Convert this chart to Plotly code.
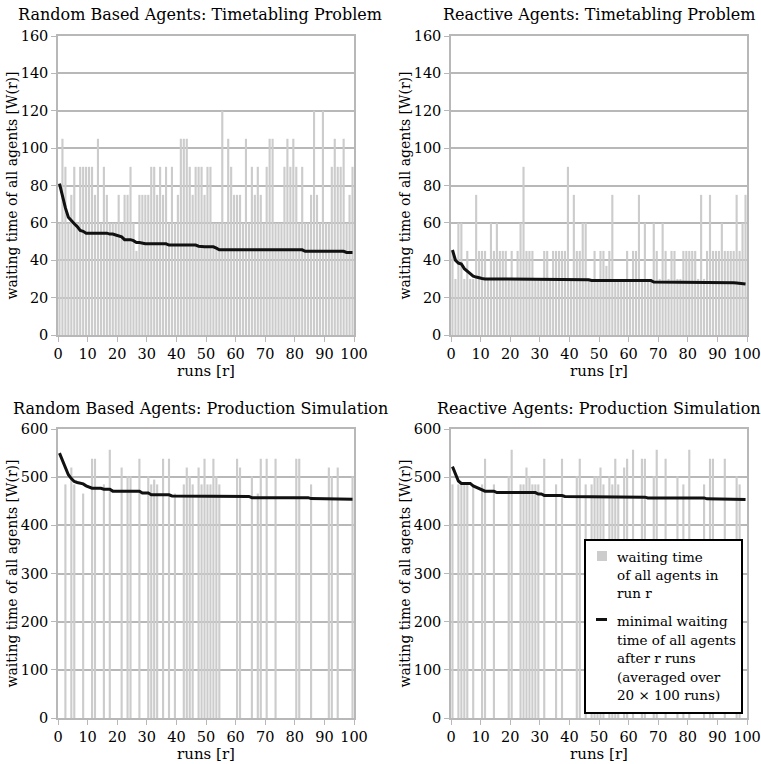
import plotly.graph_objects as go

runs = list(range(1, 101))

# Random Based Agents: Timetabling Problem
tl_bars = [60, 105, 90, 60, 75, 90, 60, 90, 90, 90,
           90, 90, 75, 105, 60, 90, 75, 60, 60, 60,
           75, 60, 75, 75, 90, 60, 45, 75, 75, 75,
           75, 90, 90, 75, 90, 75, 90, 60, 90, 60,
           75, 105, 105, 105, 90, 75, 90, 90, 90, 75,
           90, 90, 60, 60, 60, 120, 60, 105, 90, 75,
           75, 75, 60, 105, 60, 90, 75, 90, 75, 60,
           90, 105, 105, 60, 60, 60, 90, 105, 90, 105,
           90, 60, 90, 60, 60, 75, 120, 75, 60, 120,
           60, 60, 90, 105, 90, 90, 105, 60, 75, 90]
tl_min = [81, 74, 68, 63, 61, 59.5, 58, 56, 55.5, 54.5,
          54.5, 54.5, 54.5, 54.5, 54.5, 54.5, 54.5, 54, 54, 53.5,
          53, 52.5, 51, 51, 51, 50.5, 49.5, 49.5, 49, 48.8,
          48.8, 48.8, 48.8, 48.8, 48.8, 48.8, 48.8, 48.1, 48.1, 48.1,
          48.1, 48.1, 48.1, 48.1, 48.1, 48.1, 48.1, 47.5, 47.2, 47.2,
          47.2, 47.2, 47.2, 46.5, 45.6, 45.6, 45.6, 45.6, 45.6, 45.6,
          45.6, 45.6, 45.6, 45.6, 45.6, 45.6, 45.6, 45.6, 45.6, 45.6,
          45.6, 45.6, 45.6, 45.6, 45.6, 45.6, 45.6, 45.6, 45.6, 45.6,
          45.6, 45.6, 45.6, 44.8, 44.8, 44.8, 44.8, 44.8, 44.8, 44.8,
          44.8, 44.8, 44.8, 44.8, 44.8, 44.8, 44.8, 44.2, 44.2, 44.2]

# Reactive Agents: Timetabling Problem
tr_bars = [45, 30, 60, 60, 30, 45, 30, 30, 75, 45,
           45, 45, 30, 60, 45, 60, 45, 45, 45, 30,
           45, 30, 45, 60, 90, 45, 45, 45, 30, 30,
           30, 45, 45, 30, 45, 45, 45, 45, 45, 90,
           30, 75, 45, 45, 60, 60, 30, 30, 45, 30,
           45, 45, 37, 45, 75, 30, 30, 30, 30, 45,
           30, 45, 45, 75, 30, 60, 30, 30, 60, 45,
           30, 60, 45, 30, 45, 45, 30, 30, 45, 45,
           45, 45, 45, 30, 75, 30, 45, 75, 45, 45,
           45, 60, 45, 45, 45, 45, 75, 45, 60, 75]
tr_min = [45.5, 40, 38.5, 38, 35.5, 34, 32.5, 31.5, 31, 30.5,
          30.2, 30, 30, 30, 30, 30, 30, 30, 30, 30,
          29.6, 29.6, 29.6, 29.6, 29.6, 29.6, 29.6, 29.6, 29.6, 29.6,
          29.6, 29.6, 29.6, 29.6, 29.6, 29.6, 29.6, 29.6, 29.6, 29.6,
          29.6, 29.6, 29.6, 29.6, 29.6, 29.6, 29.6, 29.2, 29.2, 29.2,
          29.2, 29.2, 29.2, 29.2, 29.2, 29.2, 29.2, 29.2, 29.2, 29.2,
          29.2, 29.2, 29.2, 29.2, 29.2, 29.2, 29.2, 29.2, 28.3, 28.3,
          28.3, 28.3, 28.3, 28.3, 28.3, 28.3, 28.3, 28.3, 28.3, 28.3,
          28.3, 28.3, 28.3, 28.3, 28.3, 28.3, 28.3, 28.3, 28.3, 28.3,
          28.3, 28.3, 28.3, 28.3, 28.3, 27.9, 27.8, 27.6, 27.4, 27.3]

# Random Based Agents: Production Simulation
bl_bars = [0, 0, 485, 0, 520, 485, 0, 0, 466, 0,
           0, 538, 538, 0, 0, 485, 0, 557, 0, 0,
           0, 520, 0, 502, 502, 0, 0, 538, 0, 0,
           502, 485, 495, 485, 0, 538, 0, 538, 0, 466,
           0, 0, 485, 520, 502, 485, 0, 520, 485, 538,
           485, 485, 538, 502, 485, 0, 0, 0, 0, 0,
           538, 520, 0, 0, 0, 502, 0, 466, 538, 0,
           538, 0, 0, 538, 0, 0, 0, 0, 0, 0,
           538, 538, 0, 0, 0, 485, 0, 0, 0, 0,
           0, 520, 502, 0, 520, 0, 0, 0, 0, 502]
bl_min = [550, 535, 517, 505, 497, 491, 489, 487, 486, 482,
          480, 477, 477, 477, 477, 475, 475, 475, 471, 471,
          471, 471, 471, 471, 471, 471, 471, 471, 467, 467,
          467, 463.5, 463.5, 463.5, 463.5, 463.5, 463.5, 463.5, 461, 461,
          461, 461, 461, 461, 461, 461, 461, 461, 461, 461,
          461, 461, 461, 461, 461, 461, 461, 461, 460, 460,
          460, 460, 460, 460, 460, 457.5, 457.5, 457.5, 457.5, 457.5,
          457.5, 457.5, 457.5, 457.5, 457.5, 457.5, 457.5, 457.5, 457.5, 457.5,
          457.5, 457.5, 457.5, 457.5, 457.5, 455.5, 455.5, 455.5, 455.5, 455.5,
          455.5, 455.5, 455.5, 455, 455, 455, 454.5, 454.5, 454, 454]

# Reactive Agents: Production Simulation
br_bars = [485, 0, 485, 485, 485, 485, 0, 485, 0, 0,
           485, 538, 0, 0, 485, 0, 0, 0, 0, 502,
           557, 0, 0, 485, 485, 520, 502, 485, 485, 485,
           0, 538, 0, 0, 0, 485, 0, 538, 0, 0,
           0, 0, 502, 538, 0, 485, 0, 485, 502, 502,
           520, 485, 0, 502, 485, 538, 485, 0, 520, 538,
           0, 557, 0, 0, 538, 538, 0, 0, 502, 557,
           0, 0, 538, 0, 0, 0, 502, 0, 485, 0,
           557, 0, 0, 0, 0, 485, 0, 538, 538, 0,
           0, 0, 538, 0, 0, 0, 502, 485, 0, 0]
br_min = [522, 505, 492, 487, 487, 487, 487, 482, 479, 476,
          474, 471, 471, 471, 471, 468, 468, 468, 468, 468,
          468, 468, 468, 468, 468, 468, 468, 468, 468, 465,
          465, 462, 462, 462, 462, 462, 462, 462, 460, 460,
          460, 458.5, 458.5, 458.5, 458.5, 458.5, 458.5, 458.5, 458.5, 458.5,
          458.5, 458.5, 458.5, 458.5, 458.5, 458.5, 458.5, 458.5, 458.5, 458.5,
          458.5, 458.5, 458.5, 458.5, 458.5, 458.5, 457, 457, 457, 457,
          457, 457, 457, 457, 457, 457, 457, 457, 457, 457,
          457, 457, 457, 457, 457, 457, 455, 455, 455, 455,
          455, 455, 455, 455, 455, 455, 455, 454.5, 454, 453.5]

titles = ["Random Based Agents: Timetabling Problem",
          "Reactive Agents: Timetabling Problem",
          "Random Based Agents: Production Simulation",
          "Reactive Agents: Production Simulation"]
x_ticks = list(range(0, 101, 10))
bar_legend_lines = ["waiting time", "of all agents in", "run r"]
line_legend_lines = ["minimal waiting", "time of all agents", "after r runs",
                     "(averaged over", "20 × 100 runs)"]

FONT = "DejaVu Serif"
GRID = "#b8b8b8"
BAR = "#cccccc"

W, H = 761, 764
xdoms = [[58 / W, 354 / W], [451 / W, 747 / W]]
ydoms = [[1 - 335 / H, 1 - 36 / H], [1 - 718 / H, 1 - 429 / H]]


def px(x):
    return x / W


def py(y):
    return 1 - y / H


panels = [
    (tl_bars, tl_min, 0, 0, [0, 160], 20),
    (tr_bars, tr_min, 1, 0, [0, 160], 20),
    (bl_bars, bl_min, 0, 1, [0, 600], 100),
    (br_bars, br_min, 1, 1, [0, 600], 100),
]

xpos = [r - 0.5 for r in runs]

fig = go.Figure()
layout = dict(
    width=W, height=H,
    margin=dict(l=0, r=0, t=0, b=0, autoexpand=False),
    paper_bgcolor="white", plot_bgcolor="white",
    font=dict(family=FONT, size=14, color="black"),
    barmode="overlay",
    showlegend=False,
    annotations=[],
    shapes=[],
)

for i, (bars, mins, col, row, yr, dt) in enumerate(panels):
    n = "" if i == 0 else str(i + 1)
    xa, ya = "x" + n, "y" + n
    fig.add_trace(go.Bar(x=xpos, y=bars, xaxis=xa, yaxis=ya, width=0.72,
                         marker=dict(color=BAR, line=dict(width=0)),
                         name="waiting time of all agents in run r"))
    fig.add_trace(go.Scatter(x=xpos, y=mins, xaxis=xa, yaxis=ya, mode="lines",
                             line=dict(color="#111111", width=3),
                             name="minimal waiting time of all agents after r runs"))
    layout["xaxis" + n] = dict(
        domain=xdoms[col], anchor=ya, range=[0, 100], automargin=False,
        tickvals=x_ticks, ticks="outside", ticklen=5, tickcolor=GRID,
        showgrid=False, showline=True, linecolor=GRID, linewidth=1.5, mirror=True,
        tickfont=dict(size=14.5), zeroline=False,
        title=dict(text="runs [r]", font=dict(size=15), standoff=3),
    )
    layout["yaxis" + n] = dict(
        domain=ydoms[row], anchor=xa, range=yr, dtick=dt, automargin=False,
        ticks="outside", ticklen=5, tickcolor=GRID,
        showgrid=True, gridcolor=GRID, gridwidth=1.5,
        showline=True, linecolor=GRID, linewidth=1.5, mirror=True,
        tickfont=dict(size=14.5), zeroline=False,
        title=dict(text="waiting time of all agents [W(r)]", font=dict(size=14), standoff=0),
    )
    layout["annotations"].append(dict(
        text=titles[i], xref="paper", yref="paper",
        x=(xdoms[col][0] + xdoms[col][1]) / 2 - (6 / W if col == 0 else 0),
        y=py(14) if row == 0 else py(408),
        xanchor="center", yanchor="middle", showarrow=False,
        font=dict(family=FONT, size=16, color="black"),
    ))

# legend box drawn in the lower right panel
layout["shapes"].append(dict(type="rect", xref="paper", yref="paper",
                             x0=px(585), x1=px(742), y0=py(713), y1=py(540),
                             line=dict(color="black", width=2), fillcolor="white", layer="above"))
layout["shapes"].append(dict(type="rect", xref="paper", yref="paper",
                             x0=px(597), x1=px(607), y0=py(561), y1=py(551),
                             line=dict(width=0), fillcolor=BAR, layer="above"))
layout["shapes"].append(dict(type="line", xref="paper", yref="paper",
                             x0=px(596), x1=px(607), y0=py(619.5), y1=py(619.5),
                             line=dict(color="#111111", width=3), layer="above"))
for k, txt in enumerate(bar_legend_lines):
    layout["annotations"].append(dict(
        text=txt, xref="paper", yref="paper", x=px(615), y=py(556.5 + 18.4 * k),
        xanchor="left", yanchor="middle", showarrow=False,
        font=dict(family=FONT, size=13.5, color="black")))
for k, txt in enumerate(line_legend_lines):
    layout["annotations"].append(dict(
        text=txt, xref="paper", yref="paper", x=px(615), y=py(621 + 18.5 * k),
        xanchor="left", yanchor="middle", showarrow=False,
        font=dict(family=FONT, size=13.5, color="black")))

fig.update_layout(**layout)
fig.write_html("out.html", config={"displayModeBar": False},
               post_script="document.body.style.margin='0px';document.body.style.overflow='hidden';")
